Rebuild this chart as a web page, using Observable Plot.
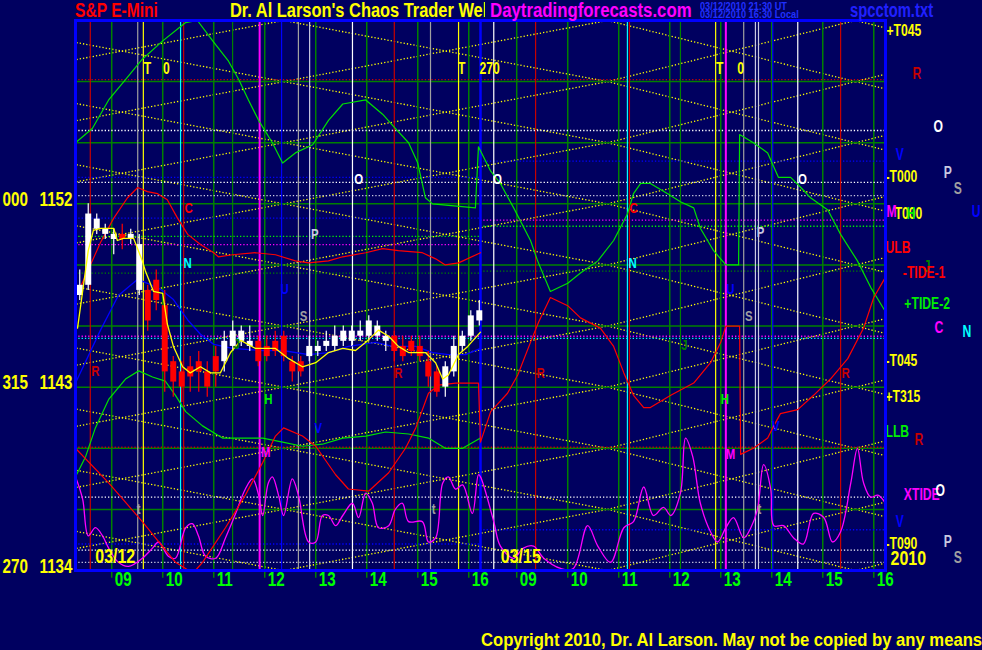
<!DOCTYPE html>
<html><head><meta charset="utf-8">
<script src="https://cdn.jsdelivr.net/npm/d3@7"></script>
<script src="https://cdn.jsdelivr.net/npm/@observablehq/plot@0.6"></script>
<style>
html,body{margin:0;padding:0;background:#000060;}
#wrap{position:relative;width:982px;height:650px;overflow:hidden;background:#000060;
 font-family:"Liberation Sans",Arial,sans-serif;font-weight:bold;}
#wrap svg{position:absolute;left:0;top:0;}
.t{position:absolute;white-space:nowrap;line-height:1;z-index:2;transform-origin:0 0;}
</style></head><body><div id="wrap">
<div class="t" style="left:75px;top:0px;color:#ff0000;font-size:20px;transform:scaleX(.78)">S&amp;P E-Mini</div>
<div class="t" style="left:230px;top:0px;width:255px;height:24px;overflow:hidden;"><div class="t" style="left:0;top:0;color:#ffff00;font-size:20px;transform:scaleX(.82)">Dr. Al Larson's Chaos Trader Web</div></div>
<div class="t" style="left:490px;top:0px;color:#ff00ff;font-size:20px;transform:scaleX(.84)">Daytradingforecasts.com</div>
<div class="t" style="left:700px;top:2px;color:#2030ff;font-size:10px;transform:scaleX(.92)">03/12/2010 21:30 UT</div>
<div class="t" style="left:700px;top:10px;color:#2030ff;font-size:10px;transform:scaleX(.92)">03/12/2010 16:30 Local</div>
<div class="t" style="left:850px;top:0px;color:#2020ff;font-size:20px;transform:scaleX(.74)">spcctom.txt</div>
<div class="t" style="left:481px;top:630px;color:#ffff00;font-size:19px;transform:scaleX(.875)">Copyright 2010, Dr. Al Larson. May not be copied by any means.</div>
</div>
<script>
// ---------- time axis (session hours from chart start) ----------
const hourLabels = ["09","10","11","12","13","14","15","16"];
const dayStarts = [0, 7.94];          // session-hour where each day begins
const nineOClock = 0.71;              // 09:00 is 0.71 h after a day's start
const dayBoundary = 7.94;
const dateLabels = ["03/12","03/15"];
const dateT = [0.78, 8.73];

// ---------- price levels ----------
const gridLevels = [1158,1155,1152,1149,1146,1143,1140,1137];
const leftAngle = ["000","315","270"];
const leftPrice = [1152,1143,1134];

// ---------- vertical event lines ----------
const vLineT    = [0.29,1.22,1.33,2.06,2.12,3.08,3.61,4.04,4.37,4.59,5.43,6.25,6.96,7.51,8.20,9.02,10.82,10.86,11.86,12.55,12.75,13.10,13.33,13.39,13.67,14.16,15.00];
const vLineKind = ["dred","gray","yellow","cyan","dred","grid","magenta","blue","gray","silver","white","dred","gray","yellow","white","dred","cyan","dred","grid","yellow","magenta","gray","silver","silver","blue","white","dred"];

// ---------- horizontal dotted levels ----------
const hDotPrice = [1158.1,1140.05,1155.6,1153.3,1154.1,1153.05,1152.4,1151.3,1151.2,1150.4,1150.9,1150.0,1148.6,1148.7,1145.5,1145.4,1137.6,1135.3,1136.0,1135.0,1134.4];
const hDotSpan  = ["full","full","full","day1","day2","full","full","day1","day2","day1","day2","day1","day1","day2","full","full","full","day1","day2","full","full"];
const hDotKind  = ["dred","dred","white","blue","blue","white","silver","blue","magenta","lime","lime","magenta","grid","grid","magenta","cyan","white","blue","blue","white","silver"];

// ---------- yellow time/price lattice nodes ----------
const latticeCols = [-2.27, 4.08, 10.43, 15.29, 20.16];
const latticeLevels = [1161,1158,1155,1152,1149,1146,1143,1140,1137,1134];

// ---------- 10-minute candles, day 1 ----------
const candleStart = 0.083, candleStep = 1/6;
const candleOpen  = [1147.5,1148.0,1150.75,1150.5,1150.25,1150.5,1150.25,1147.75,1147.75,1148.25,1147.0,1144.25,1143.75,1144.0,1144.25,1143.75,1144.5,1144.25,1145.0,1145.25,1145.0,1145.25,1145.0,1145.25,1145.5,1144.25,1144.25,1144.5,1144.75,1145.0,1145.0,1145.25,1145.25,1145.5,1145.5,1145.5,1145.25,1145.5,1145.0,1145.25,1145.0,1144.25,1143.75,1143.0,1143.75,1145.0,1145.5,1146.25];
const candleHigh  = [1148.75,1152.0,1151.5,1151.0,1150.75,1151.0,1150.75,1150.5,1148.0,1148.75,1147.75,1144.5,1144.25,1144.5,1144.75,1144.25,1145.0,1145.75,1146.25,1146.0,1146.0,1145.5,1145.5,1145.75,1145.75,1144.5,1144.5,1145.5,1145.25,1145.75,1146.0,1146.0,1146.0,1146.25,1146.5,1146.25,1145.75,1145.75,1145.5,1145.5,1145.5,1144.75,1144.0,1144.25,1145.5,1145.75,1146.75,1147.25];
const candleLow   = [1147.25,1147.75,1150.5,1150.25,1149.5,1149.75,1150.0,1147.5,1145.75,1146.75,1142.75,1142.5,1142.25,1142.75,1142.75,1142.5,1143.0,1143.75,1144.75,1145.0,1144.75,1144.0,1144.25,1144.5,1144.25,1143.25,1143.5,1144.25,1144.5,1144.75,1144.75,1145.0,1145.0,1145.25,1145.25,1145.25,1144.75,1144.25,1144.25,1144.5,1144.25,1143.0,1142.5,1142.5,1143.5,1144.75,1145.25,1146.0];
const candleClose = [1148.0,1151.5,1151.25,1150.75,1150.5,1150.25,1150.5,1150.0,1146.25,1147.25,1143.75,1143.25,1143.0,1143.5,1143.75,1143.0,1143.75,1145.25,1145.75,1145.75,1145.25,1144.25,1144.5,1144.75,1144.5,1143.75,1143.75,1145.0,1145.0,1145.25,1145.5,1145.75,1145.75,1145.75,1146.25,1146.0,1145.5,1144.75,1144.5,1144.75,1144.5,1143.5,1142.75,1144.0,1145.0,1145.5,1146.5,1146.75];

// ---------- forecast / indicator series [session hour, price] ----------
const movingAvg = [[0.04,1145.9],[0.25,1149.7],[0.35,1150.7],[0.49,1150.8],[0.75,1150.8],[0.82,1150.2],[0.94,1150.3],[1.14,1150.3],[1.31,1149.2],[1.37,1148.7],[1.53,1147.7],[1.71,1147.6],[1.8,1146.1],[1.92,1145.0],[2.1,1144.0],[2.25,1143.7],[2.45,1144.0],[2.65,1143.7],[2.84,1143.7],[3.04,1144.7],[3.24,1145.3],[3.53,1144.9],[3.92,1144.9],[4.18,1144.4],[4.45,1144.0],[4.71,1144.2],[4.96,1144.7],[5.24,1144.9],[5.49,1144.8],[5.69,1145.2],[5.94,1145.8],[6.14,1145.5],[6.33,1145.0],[6.53,1144.7],[6.86,1144.7],[7.06,1144.2],[7.2,1143.4],[7.31,1143.6],[7.51,1144.6],[7.69,1145.0],[7.94,1145.7]];
const blueLine = [[0,1143.2],[0.49,1145.8],[0.84,1147.5],[1.22,1148.3],[1.41,1148.1],[1.67,1147.8],[1.92,1147.3],[2.2,1146.3],[2.45,1145.6],[2.71,1145.1],[3.08,1144.9],[3.67,1144.8],[4.06,1144.8],[4.57,1144.6],[4.96,1144.7],[5.35,1145.0],[5.88,1145.2],[6.22,1145.0],[6.67,1145.0],[7.0,1144.7],[7.31,1144.6],[7.65,1144.6],[7.94,1144.9]];
const greenUpper = [[0,1155.0],[0.33,1155.7],[0.65,1157.1],[0.98,1158.1],[1.31,1159.1],[1.71,1160.0],[2.16,1160.9],[2.39,1161.0],[2.69,1160.0],[3.0,1159.0],[3.2,1158.1],[3.39,1157.1],[3.59,1156.1],[3.86,1155.0],[4.06,1154.0],[4.31,1154.5],[4.65,1154.9],[4.96,1156.1],[5.24,1156.9],[5.69,1157.1],[6.02,1156.4],[6.27,1155.7],[6.53,1155.0],[6.71,1154.0],[6.86,1152.3],[7.0,1152.0],[7.84,1151.8],[7.90,1154.8],[8.14,1153.6],[8.33,1153.0],[8.59,1151.8],[8.92,1150.2],[9.06,1149.2],[9.31,1147.7],[9.65,1148.1],[9.90,1148.6],[10.24,1149.2],[10.55,1150.2],[10.82,1151.5],[10.94,1152.5],[11.08,1153.0],[11.27,1153.0],[11.61,1152.5],[11.86,1152.1],[12.12,1151.8],[12.25,1150.8],[12.51,1149.7],[12.75,1149.0],[13.0,1149.0],[13.02,1155.4],[13.29,1155.0],[13.57,1154.5],[13.78,1153.3],[14.02,1153.3],[14.22,1152.8],[14.41,1152.3],[14.75,1151.7],[15.0,1150.5],[15.33,1149.2],[15.59,1147.9],[15.88,1146.7]];
const greenLower = [[0,1138.6],[0.2,1139.6],[0.39,1141.0],[0.65,1142.4],[0.98,1143.4],[1.24,1143.8],[1.51,1143.5],[1.76,1143.3],[1.96,1142.6],[2.16,1141.8],[2.49,1141.1],[2.88,1140.5],[3.27,1140.5],[3.67,1140.5],[4.06,1140.3],[4.45,1140.1],[4.84,1140.2],[5.24,1140.5],[5.69,1140.6],[6.08,1140.8],[6.53,1140.7],[6.92,1140.5],[7.25,1140.0],[7.59,1140.0],[7.94,1140.5]];
const redUpper = [[0.04,1147.6],[0.24,1148.7],[0.49,1150.1],[0.75,1151.3],[1.02,1152.3],[1.22,1152.8],[1.41,1152.6],[1.61,1152.5],[1.8,1152.2],[2.0,1151.3],[2.2,1150.5],[2.45,1150.0],[2.71,1149.6],[2.8,1149.4],[3.08,1149.5],[3.53,1149.6],[3.92,1149.5],[4.31,1149.2],[4.57,1149.1],[4.96,1149.2],[5.24,1149.4],[5.69,1149.6],[6.02,1149.8],[6.33,1149.7],[6.8,1149.6],[7.06,1149.3],[7.25,1149.0],[7.51,1149.1],[7.94,1149.6]];
const redLower = [[0,1140.0],[0.65,1138.3],[1.31,1136.4],[1.96,1134.4],[2.22,1134.0],[2.35,1134.0],[2.49,1134.4],[2.94,1136.1],[3.33,1137.7],[3.67,1139.3],[3.92,1140.6],[4.08,1141.0],[4.45,1140.6],[4.71,1140.1],[5.1,1138.7],[5.35,1138.0],[5.75,1137.9],[6.14,1138.8],[6.47,1140.0],[6.67,1141.0],[6.92,1142.7],[7.12,1143.1],[7.45,1143.2],[7.9,1143.2],[7.94,1140.3],[8.14,1141.8],[8.47,1142.7],[8.67,1143.6],[8.92,1145.2],[9.08,1146.2],[9.31,1147.4],[9.65,1147.0],[9.90,1146.4],[10.29,1145.9],[10.55,1145.0],[10.75,1143.7],[10.94,1142.6],[11.14,1142.0],[11.27,1142.0],[11.67,1142.6],[12.12,1143.2],[12.45,1144.2],[12.65,1145.2],[12.75,1146.0],[13.02,1146.0],[13.04,1139.7],[13.29,1140.0],[13.57,1140.5],[13.69,1141.1],[13.82,1141.7],[14.16,1141.9],[14.47,1142.6],[14.8,1143.4],[15.14,1144.4],[15.45,1145.9],[15.65,1147.4],[15.88,1148.4]];
const xtide = [[0,1138.6],[0.14,1137.5],[0.25,1135.7],[0.39,1136.1],[0.53,1135.7],[0.65,1135.1],[0.84,1134.4],[1.04,1134.2],[1.31,1134.6],[1.51,1135.1],[1.63,1135.4],[1.82,1134.7],[1.96,1134.6],[2.16,1136.1],[2.29,1136.3],[2.41,1135.7],[2.55,1134.7],[2.75,1134.6],[2.94,1135.6],[3.14,1136.8],[3.33,1138.0],[3.47,1138.5],[3.59,1137.7],[3.67,1136.7],[3.78,1138.3],[3.86,1138.6],[3.98,1137.7],[4.08,1136.7],[4.25,1138.5],[4.37,1137.7],[4.57,1135.4],[4.71,1135.4],[4.84,1136.7],[4.96,1136.7],[5.1,1136.2],[5.24,1136.7],[5.43,1137.3],[5.55,1136.6],[5.69,1137.8],[5.82,1137.3],[5.94,1136.1],[6.14,1136.2],[6.27,1137.0],[6.41,1137.3],[6.53,1136.4],[6.8,1136.4],[6.92,1135.4],[7.06,1135.6],[7.2,1138.3],[7.31,1138.6],[7.45,1138.0],[7.59,1138.2],[7.78,1136.8],[7.9,1138.7],[7.94,1138.6],[8.2,1136.4],[8.33,1135.2],[8.59,1134.6],[8.78,1135.1],[8.98,1135.2],[9.18,1134.6],[9.51,1134.1],[9.76,1134.1],[10.04,1136.2],[10.24,1135.2],[10.49,1134.4],[10.75,1136.1],[10.94,1136.4],[11.14,1138.1],[11.33,1136.7],[11.53,1137.1],[11.67,1136.7],[11.86,1137.8],[11.96,1140.5],[12.1,1139.6],[12.25,1137.3],[12.45,1135.9],[12.59,1135.4],[12.75,1136.1],[12.9,1136.6],[13.1,1135.6],[13.24,1136.1],[13.37,1137.0],[13.49,1139.2],[13.63,1138.0],[13.69,1136.2],[13.88,1136.2],[14.08,1135.6],[14.27,1135.3],[14.47,1136.8],[14.67,1136.6],[14.84,1135.4],[15.0,1135.9],[15.2,1138.3],[15.33,1140.0],[15.45,1138.3],[15.59,1137.6],[15.73,1137.7],[15.88,1137.3]];

// ---------- in-chart letters ----------
const tagText = ["T","0","T","270","T","0","C","C","N","N","O","O","O","P","P","S","S","U","U","R","R","R","R","H","H","V","V","M","M","J","J","t","t","t"];
const tagT    = [1.41,1.78,7.57,8.12,12.63,13.04,2.22,10.94,2.2,10.92,5.55,8.27,14.25,4.69,13.43,4.47,13.2,4.1,12.84,0.39,6.33,9.12,15.1,3.78,12.73,4.76,13.73,3.73,12.84,3.16,11.94,1.24,7.02,13.41];
const tagP    = [1158.64,1158.64,1158.64,1158.64,1158.64,1158.64,1151.8,1151.8,1149.1,1149.1,1153.2,1153.2,1153.2,1150.5,1150.6,1146.5,1146.5,1147.8,1147.8,1143.8,1143.7,1143.7,1143.7,1142.4,1142.4,1141.0,1141.1,1139.8,1139.7,1145.1,1145.05,1137.0,1137.0,1137.0];
const tagKind = ["yellow","yellow","yellow","yellow","yellow","yellow","red","red","cyan","cyan","white","white","white","silver","silver","gray","gray","blue","blue","dred","dred","dred","dred","lime","lime","blue","blue","magenta","magenta","grid","grid","gray","gray","gray"];

// ---------- right-hand legend of levels ----------
const sideText = ["+T045","R","O","V","-T000","P","S","U","T000","M","H","ULB","J","-TIDE-1","+TIDE-2","C","N","-T045","+T315","LLB","R","XTIDE","O","V","-T090","P","S"];
const sideT    = [15.9,16.41,16.82,16.08,15.88,17.02,17.22,17.57,16.06,15.9,16.29,15.88,16.63,16.22,16.25,16.84,17.39,15.88,15.88,15.88,16.45,16.24,16.86,16.08,15.88,17.02,17.22];
const sideP    = [1160.5,1158.4,1155.8,1154.4,1153.3,1153.5,1152.75,1151.6,1151.5,1151.6,1151.5,1149.85,1148.9,1148.6,1147.1,1145.9,1145.7,1144.3,1142.5,1140.8,1140.4,1137.7,1137.9,1136.4,1135.3,1135.4,1134.6];
const sideKind = ["yellow","dred","white","blue","yellow","silver","gray","blue","yellow","magenta","lime","red","grid","red","lime","magenta","cyan","yellow","yellow","lime","dred","magenta","white","blue","yellow","silver","gray"];
const yearLabel = "2010", yearT = 15.98, yearP = 1134.6;

// ---------- colours ----------
const colour = {red:"#ff0000",dred:"#c80000",gray:"#a0a0a0",silver:"#c8c8e0",white:"#ffffff",yellow:"#ffff00",cyan:"#00ffff",magenta:"#ff00ff",blue:"#0000ff",grid:"#008000",lime:"#00ee00"};
const FONT = '"Liberation Sans",Arial,sans-serif';

// ---------- derived tables ----------
const hourTicks = [], hourText = [];
dayStarts.forEach(s => hourLabels.forEach((h, k) => { hourTicks.push(s + nineOClock + k); hourText.push(h); }));
const hourRows = hourTicks.map((t, i) => ({t, label: hourText[i]}));
const spans = {full: [0, 15.88], day1: [0, dayBoundary], day2: [dayBoundary, 15.88]};
const hDots = hDotPrice.map((p, i) => ({p, x1: spans[hDotSpan[i]][0], x2: spans[hDotSpan[i]][1], c: colour[hDotKind[i]]}));
const vLines = vLineT.map((t, i) => ({t, c: colour[vLineKind[i]], w: vLineKind[i] === "magenta" ? 2 : 1.2}));
const lattice = [];
for (let k = 0; k < latticeCols.length - 1; k++)
  for (let i = 0; i < latticeLevels.length - 1; i++) {
    lattice.push({x1: latticeCols[k], y1: latticeLevels[i], x2: latticeCols[k + 1], y2: latticeLevels[i + 1]});
    lattice.push({x1: latticeCols[k], y1: latticeLevels[i + 1], x2: latticeCols[k + 1], y2: latticeLevels[i]});
  }
const candles = candleOpen.map((o, i) => ({t: candleStart + i * candleStep, o, h: candleHigh[i], l: candleLow[i], c: candleClose[i],
  col: candleClose[i] >= o ? "#ffffff" : "#ff0000"}));
const tags = tagText.map((s, i) => ({s, t: tagT[i], p: tagP[i], c: colour[tagKind[i]]}));
const bigTags = tags.filter(d => /[0-9]|T/.test(d.s));
const smallTags = tags.filter(d => !/[0-9]|T/.test(d.s));
const side = sideText.map((s, i) => ({s, t: sideT[i], p: sideP[i], c: colour[sideKind[i]]}));
const leftRows = leftPrice.map((p, i) => ({p, a: leftAngle[i], v: String(p)}));
const dates = dateLabels.map((s, i) => ({s, t: dateT[i], p: 1134.7}));
const X = d => d[0], Y = d => d[1];
const txt = {fontWeight: "bold", fontFamily: FONT};

const chart = Plot.plot({
  width: 982, height: 650,
  marginLeft: 75, marginRight: 97, marginTop: 20, marginBottom: 80,
  x: {domain: [0, 15.88], axis: null},
  y: {domain: [1134, 1161], axis: null},
  color: {type: "identity"},
  style: {background: "transparent", overflow: "visible", fontFamily: FONT, fontWeight: "bold"},
  marks: [
    Plot.link(lattice, {x1: "x1", y1: "y1", x2: "x2", y2: "y2", stroke: "#ffff00", strokeWidth: 1.3, strokeDasharray: "1.3,2", clip: true}),
    Plot.ruleY(gridLevels, {stroke: "#008000", strokeWidth: 1.5}),
    Plot.ruleX(hourTicks, {stroke: "#008000", strokeWidth: 1.5}),
    Plot.ruleX(hourTicks, {y1: 1134, y2: 1133.62, stroke: "#008000", strokeWidth: 1.5, clip: false}),
    Plot.ruleY(hDots, {y: "p", x1: "x1", x2: "x2", stroke: "c", strokeWidth: 1.3, strokeDasharray: "1.3,2"}),
    Plot.ruleX(vLines, {x: "t", stroke: "c", strokeWidth: "w"}),
    Plot.ruleX([dayBoundary], {stroke: "#0000ff", strokeWidth: 2.5}),
    Plot.line(xtide, {x: X, y: Y, stroke: "#ff00ff", strokeWidth: 1.3, curve: "catmull-rom"}),
    Plot.line(greenUpper, {x: X, y: Y, stroke: "#00e000", strokeWidth: 1.2}),
    Plot.line(greenLower, {x: X, y: Y, stroke: "#00e000", strokeWidth: 1.2}),
    Plot.line(redUpper, {x: X, y: Y, stroke: "#ff0000", strokeWidth: 1.2}),
    Plot.line(redLower, {x: X, y: Y, stroke: "#ff0000", strokeWidth: 1.2}),
    Plot.line(blueLine, {x: X, y: Y, stroke: "#0000ff", strokeWidth: 1.3}),
    Plot.ruleX(candles, {x: "t", y1: "l", y2: "h", stroke: "col", strokeWidth: 1.2}),
    Plot.ruleX(candles, {x: "t", y1: "o", y2: "c", stroke: "col", strokeWidth: 6}),
    Plot.line(movingAvg, {x: X, y: Y, stroke: "#ffff00", strokeWidth: 1.3}),
    Plot.text(smallTags, {x: "t", y: "p", text: "s", fill: "c", fontSize: 15, ...txt}),
    Plot.text(bigTags, {x: "t", y: "p", text: "s", fill: "c", fontSize: 16, ...txt}),
    Plot.text(dates, {x: "t", y: "p", text: "s", fill: "#ffff00", fontSize: 21, ...txt}),
    Plot.text(side, {x: "t", y: "p", text: "s", fill: "c", textAnchor: "start", fontSize: 16, clip: false, ...txt}),
    Plot.text([yearLabel], {x: yearT, y: yearP, text: d => d, fill: "#ffff00", textAnchor: "start", fontSize: 21, ...txt}),
    Plot.text(leftRows, {frameAnchor: "left", y: "p", text: "a", fill: "#ffff00", textAnchor: "start", lineAnchor: "bottom", dx: -73, dy: 2, fontSize: 20, ...txt}),
    Plot.text(leftRows, {frameAnchor: "left", y: "p", text: "v", fill: "#ffff00", textAnchor: "end", lineAnchor: "bottom", dx: -3, dy: 2, fontSize: 20, ...txt}),
    Plot.text(hourRows, {x: "t", y: 1134, text: "label", fill: "#00ff00", textAnchor: "start", lineAnchor: "top", dx: 3, dy: 1, fontSize: 20, ...txt}),
    Plot.frame({stroke: "#0000ff", strokeWidth: 3})
  ]
});
// condense the lettering horizontally, like the original narrow bitmap font
chart.querySelectorAll("text").forEach(el => {
  const tr = el.getAttribute("transform");
  if (tr) el.setAttribute("transform", tr + " scale(0.76,1)");
});
document.getElementById("wrap").prepend(chart);
</script>
</body></html>
